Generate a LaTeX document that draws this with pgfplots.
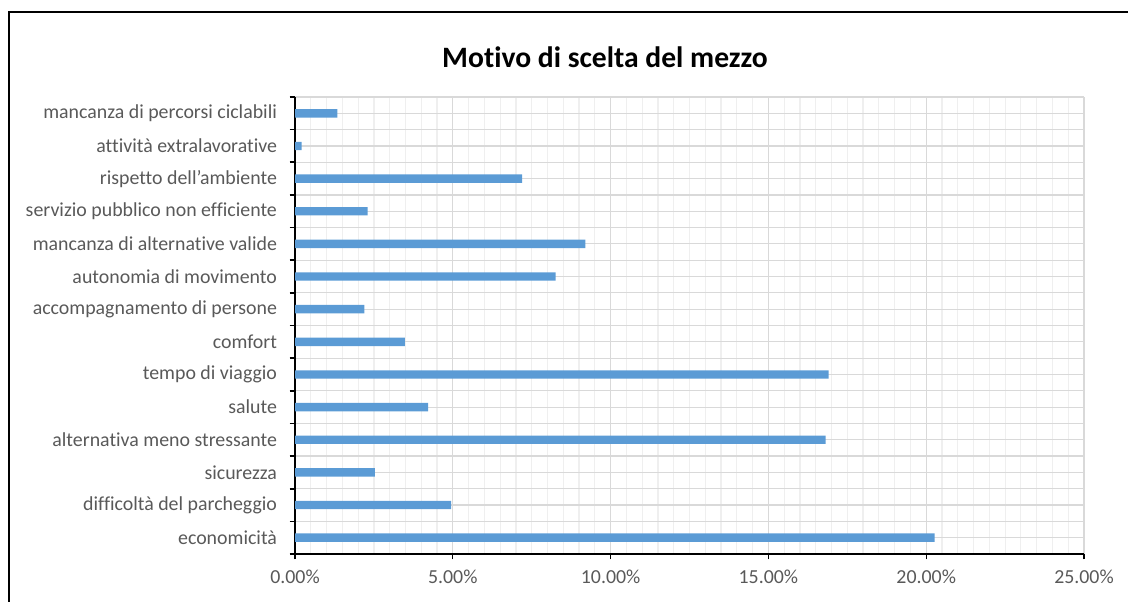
\documentclass[border=0pt]{standalone}
\usepackage{fontspec}
\setmainfont{Carlito}[Ligatures={NoCommon}]
\usepackage{pgfplots}
\pgfplotsset{compat=1.18}
\definecolor{barblue}{HTML}{5B9BD5}
\definecolor{labelgray}{HTML}{595959}
\definecolor{gridmajor}{HTML}{D9D9D9}
\definecolor{gridminor}{HTML}{EFEFEF}

\begin{document}
\begin{tikzpicture}
\useasboundingbox (0,0) rectangle (846pt,451.5pt);
% outer chart frame
\draw[line width=1.5pt] (6.75pt,0pt) -- (6.75pt,442.5pt) -- (846pt,442.5pt);
\node[font=\bfseries\fontsize{22.2}{26}\selectfont] at (453.75pt,408.75pt) {Motivo di scelta del mezzo};
\begin{axis}[
  at={(221.25pt,36pt)}, anchor=south west,
  scale only axis, width=591.75pt, height=342.75pt,
  xbar, bar width=6.3pt, bar shift=0pt,
  xmin=0, xmax=25, ymin=-0.5, ymax=13.5,
  axis x line*=bottom, axis y line*=left,
  x axis line style={black, line width=1.1pt, -},
  y axis line style={black, line width=1.5pt, -},
  xtick={0,5,...,25},
  xticklabels={0.00\%,5.00\%,10.00\%,15.00\%,20.00\%,25.00\%},
  minor x tick num=9,
  ytick={0,...,13},
  yticklabels={economicità,difficoltà del parcheggio,sicurezza,alternativa meno stressante,salute,tempo di viaggio,comfort,accompagnamento di persone,autonomia di movimento,mancanza di alternative valide,servizio pubblico non efficiente,rispetto dell’ambiente,attività extralavorative,mancanza di percorsi ciclabili},
  minor ytick={-0.5,0.5,...,13.5},
  tick align=outside,
  major tick length=4pt, minor tick length=4pt,
  major y tick style={draw=none},
  minor x tick style={draw=none},
  x tick style={black, line width=1pt},
  y tick style={black, line width=1.2pt},
  grid=both,
  major x grid style={gridmajor, line width=0.9pt},
  minor x grid style={gridminor, line width=0.9pt},
  major y grid style={gridmajor, line width=0.9pt},
  minor y grid style={gridmajor, line width=0.9pt},
  tick label style={font=\fontsize{14.9}{17}\selectfont, text=labelgray},
  yticklabel style={xshift=-6pt},
  xticklabel style={yshift=-4.5pt},
]
\addplot[fill=barblue, draw=none] coordinates {
  (20.27,0) (4.95,1) (2.53,2) (16.81,3) (4.22,4) (16.91,5) (3.48,6)
  (2.20,7) (8.26,8) (9.20,9) (2.30,10) (7.20,11) (0.21,12) (1.34,13)
};
\end{axis}
\end{tikzpicture}
\end{document}
